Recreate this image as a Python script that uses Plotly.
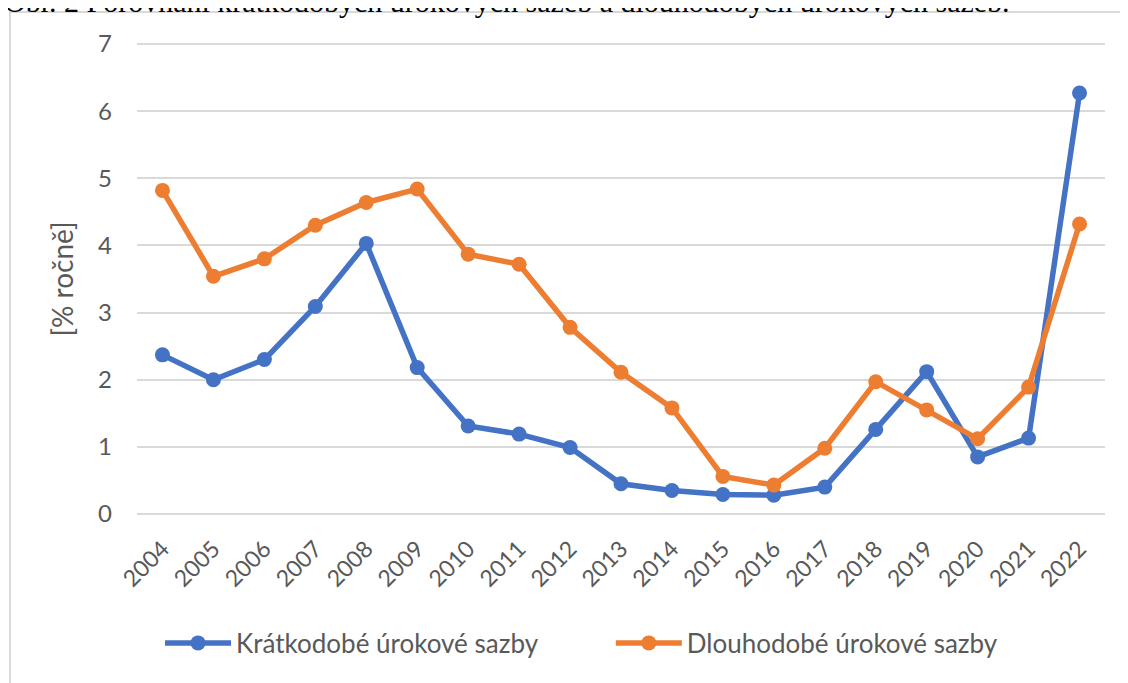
import plotly.graph_objects as go

years = [str(y) for y in range(2004, 2023)]
short_rates = [2.37, 2.00, 2.30, 3.09, 4.03, 2.18, 1.31, 1.19, 0.99, 0.45, 0.35, 0.29, 0.28, 0.40, 1.26, 2.12, 0.85, 1.13, 6.27]
long_rates = [4.82, 3.54, 3.80, 4.30, 4.64, 4.84, 3.87, 3.72, 2.78, 2.11, 1.58, 0.56, 0.43, 0.98, 1.97, 1.55, 1.12, 1.89, 4.32]
y_ticks = [0, 1, 2, 3, 4, 5, 6, 7]
series_names = ["Krátkodobé úrokové sazby", "Dlouhodobé úrokové sazby"]
y_title = "[% ročně]"
caption = "Obr. 2 Porovnání krátkodobých úrokových sazeb a dlouhodobých úrokových sazeb."

BLUE = "#4472C4"
ORANGE = "#ED7D31"
TXT = "#595959"
FONT = "Lato, Open Sans, sans-serif"

fig = go.Figure()
fig.add_trace(go.Scatter(x=years, y=short_rates, name=series_names[0], mode="lines+markers",
                         line=dict(color=BLUE, width=5.5), marker=dict(size=15, color=BLUE),
                         legend="legend"))
fig.add_trace(go.Scatter(x=years, y=long_rates, name=series_names[1], mode="lines+markers",
                         line=dict(color=ORANGE, width=5.5), marker=dict(size=15, color=ORANGE),
                         legend="legend2"))

legend_common = dict(orientation="h", yanchor="middle", xanchor="left", y=-0.2615,
                     font=dict(size=26, color=TXT), itemwidth=66, bgcolor="rgba(0,0,0,0)")

fig.update_layout(
    width=1128, height=683,
    margin=dict(l=129, r=31, t=32, b=173),
    paper_bgcolor="white", plot_bgcolor="white",
    font=dict(family=FONT, color=TXT, size=23),
    showlegend=True,
    legend=dict(x=0.0238, **legend_common),
    legend2=dict(x=0.4895, **legend_common),
    xaxis=dict(type="category", range=[-0.5, 18.5], showgrid=False, showline=False, zeroline=False,
               tickangle=-45, tickfont=dict(size=23, color=TXT), ticks="", ticklabelstandoff=12,
               automargin=False),
    yaxis=dict(range=[-0.06, 7.06], tickvals=y_ticks, showgrid=True, gridcolor="#D9D9D9", gridwidth=2,
               zeroline=False, showline=False, tickfont=dict(size=24, color=TXT),
               ticklabelstandoff=24, automargin=False,
               title=dict(text=y_title, font=dict(size=28, color=TXT), standoff=16)),
)

fig.add_shape(type="rect", xref="paper", yref="paper", x0=-0.1312, x1=1.2, y0=-0.6, y1=1.0586,
              line=dict(color="#D9D9D9", width=2), fillcolor="rgba(0,0,0,0)", layer="below")

fig.add_annotation(text=caption, xref="paper", yref="paper", x=-0.1395, y=1.08,
                   xanchor="left", yanchor="middle", showarrow=False,
                   font=dict(family="Liberation Serif, serif", size=30, color="#000000"))

fig.write_html("out.html")
